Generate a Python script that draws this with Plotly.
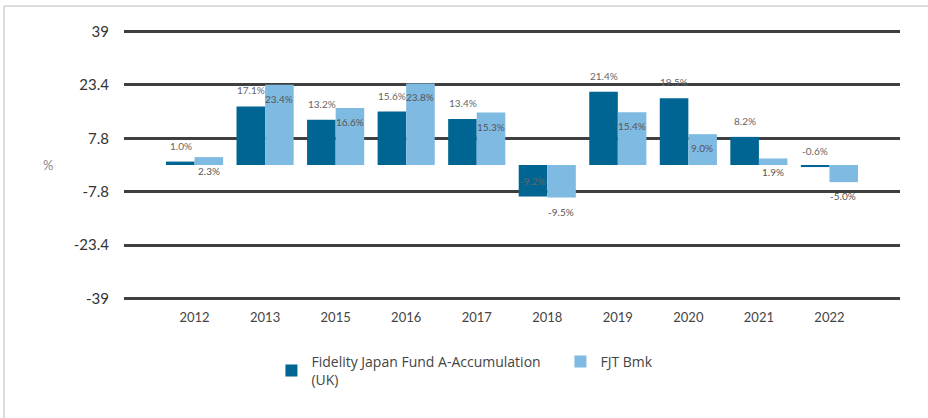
import plotly.graph_objects as go

years = ["2012", "2013", "2015", "2016", "2017", "2018", "2019", "2020", "2021", "2022"]
fund = [1.0, 17.1, 13.2, 15.6, 13.4, -9.2, 21.4, 19.5, 8.2, -0.6]
bmk = [2.3, 23.4, 16.6, 23.8, 15.3, -9.5, 15.4, 9.0, 1.9, -5.0]
tick_vals = [-39, -23.4, -7.8, 7.8, 23.4, 39]
fund_name = "Fidelity Japan Fund A-Accumulation<br>(UK)"
bmk_name = "FJT Bmk"

DARK = "#006592"
LIGHT = "#7fbae2"
FONT = "Lato, 'Open Sans', sans-serif"
LFONT = "'Open Sans', sans-serif"

fig = go.Figure()
fig.add_trace(go.Bar(x=years, y=fund, name=fund_name, marker=dict(color=DARK, line=dict(width=0))))
fig.add_trace(go.Bar(x=years, y=bmk, name=bmk_name, marker=dict(color=LIGHT, line=dict(width=0))))

ann = []
for i, v in enumerate(fund):
    ann.append(dict(x=i, y=v, xref="x", yref="y", text=f"{v:.1f}%", showarrow=False,
                    xshift=-14, yshift=16, font=dict(size=10, color="#666", family=FONT)))
for i, v in enumerate(bmk):
    ann.append(dict(x=i, y=v, xref="x", yref="y", text=f"{v:.1f}%", showarrow=False,
                    xshift=14, yshift=-14, font=dict(size=10, color="#555", family=FONT)))
ann.append(dict(x=-0.107, y=0.5, xref="paper", yref="paper", text="%", showarrow=False,
                font=dict(size=13, color="#888", family=FONT)))

fig.update_layout(
    width=928, height=418,
    margin=dict(l=124, r=28, t=30, b=118, autoexpand=False),
    paper_bgcolor="white", plot_bgcolor="white",
    barmode="group", bargap=0.19, bargroupgap=0.0,
    font=dict(family=FONT, color="#333"),
    annotations=ann,
    showlegend=True,
    legend=dict(orientation="h", x=0.19, y=-0.17, xanchor="left", yanchor="top",
                font=dict(size=14, color="#444", family=LFONT), traceorder="normal",
                itemwidth=30, entrywidth=244, entrywidthmode="pixels"),
    shapes=[
        dict(type="line", xref="paper", yref="paper", x0=-0.1546, x1=1.05, y0=1.089, y1=1.089,
             line=dict(color="#dcdcdc", width=2)),
        dict(type="line", xref="paper", yref="paper", x0=-0.1546, x1=-0.1546, y0=1.089, y1=-0.45,
             line=dict(color="#dcdcdc", width=2)),
    ],
)
fig.update_xaxes(type="category", range=[-1, 10], showgrid=False, zeroline=False, showline=False,
                 automargin=False,
                 tickfont=dict(size=13, color="#444", family=FONT), ticklabelstandoff=8)
fig.update_yaxes(range=[-39.4, 39.4], tickvals=tick_vals, ticktext=[str(t) for t in tick_vals],
                 showgrid=True, gridcolor="#3f3f3f", gridwidth=2.5, zeroline=False, showline=False,
                 automargin=False,
                 tickfont=dict(size=15, color="#333", family=FONT), ticklabelstandoff=14)

fig.write_html("out.html", config={"displayModeBar": False},
               post_script="document.body.style.margin='0';")
